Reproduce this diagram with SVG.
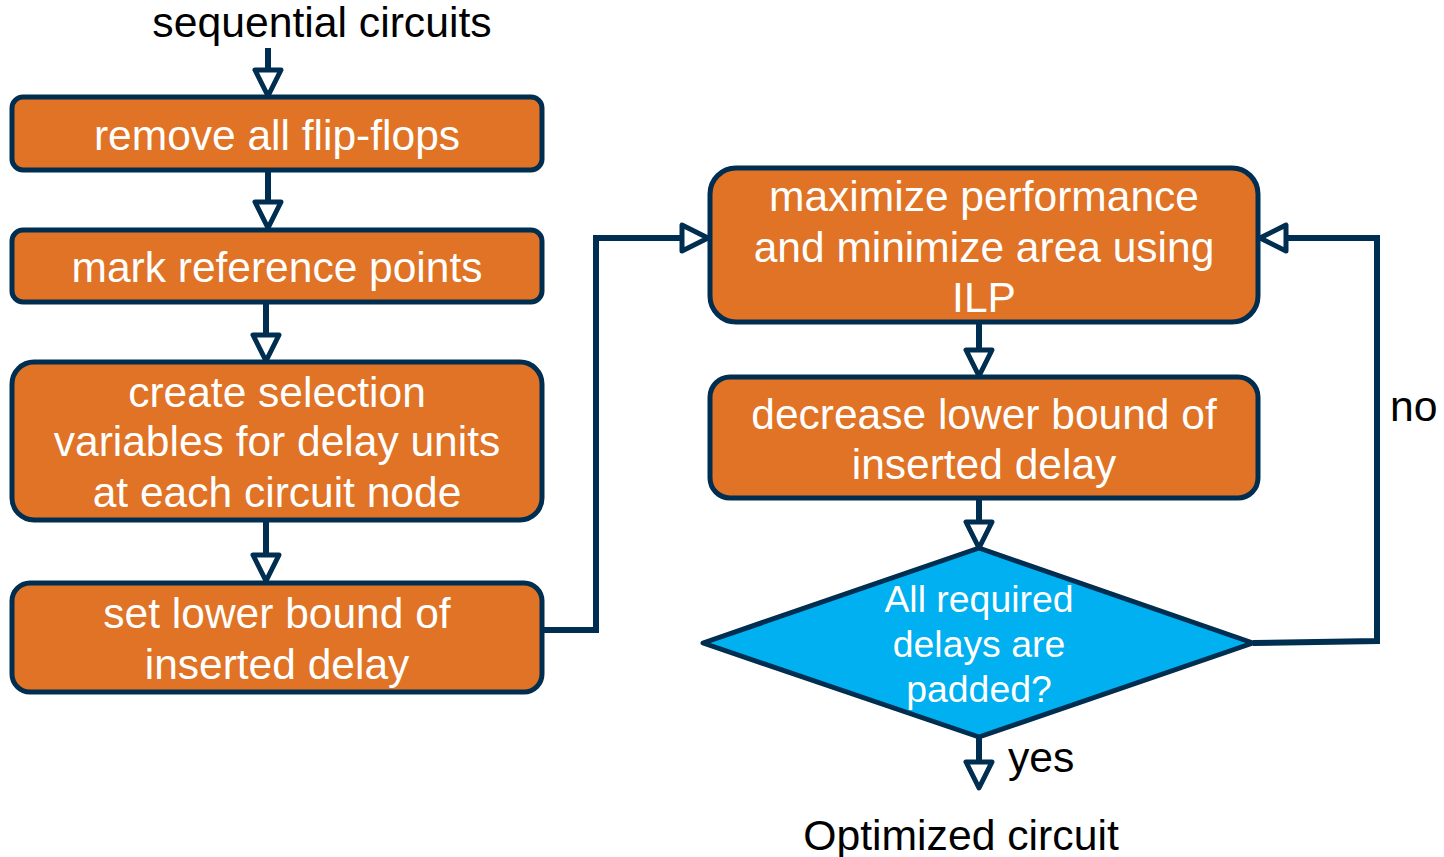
<svg xmlns="http://www.w3.org/2000/svg" width="1444" height="857" viewBox="0 0 1444 857">
<style>
.box{fill:#E07325;stroke:#002E50;stroke-width:5}
.dia{fill:#00B0F0;stroke:#002E50;stroke-width:5;stroke-linejoin:round}
.wt{fill:#fff;font-family:"Liberation Sans",Arial,sans-serif;font-size:42.5px;text-anchor:middle}
.dt{fill:#fff;font-family:"Liberation Sans",Arial,sans-serif;font-size:37.4px;text-anchor:middle}
.bt{fill:#000;font-family:"Liberation Sans",Arial,sans-serif;font-size:42.7px}
.ln{fill:none;stroke:#002E50;stroke-width:6}
.hd{fill:#fff;stroke:#002E50;stroke-width:5;stroke-linejoin:round}
</style>
<rect width="1444" height="857" fill="#fff"/>
<g id="connectors">
  <line class="ln" x1="268" y1="48" x2="268" y2="70"/>
  <polygon class="hd" points="255,70 281,70 268,96"/>
  <line class="ln" x1="268" y1="170" x2="268" y2="202"/>
  <polygon class="hd" points="255,202 281,202 268,228"/>
  <line class="ln" x1="266" y1="302" x2="266" y2="335"/>
  <polygon class="hd" points="253,335 279,335 266,361"/>
  <line class="ln" x1="266" y1="520" x2="266" y2="555"/>
  <polygon class="hd" points="253,555 279,555 266,581"/>
  <polyline class="ln" points="542,630 596,630 596,238 682,238"/>
  <polygon class="hd" points="682,225 682,251 708,238"/>
  <line class="ln" x1="979" y1="322" x2="979" y2="350"/>
  <polygon class="hd" points="966,350 992,350 979,376"/>
  <line class="ln" x1="979" y1="498" x2="979" y2="522"/>
  <polygon class="hd" points="966,522 992,522 979,548"/>
  <line class="ln" x1="979" y1="737" x2="979" y2="762"/>
  <polygon class="hd" points="966,762 992,762 979,788"/>
  <polyline class="ln" points="1253,643 1377,641 1377,238 1286,238"/>
  <polygon class="hd" points="1286,225 1286,251 1260,238"/>
  <text class="bt" x="1390" y="421">no</text>
  <text class="bt" x="1008" y="772">yes</text>
</g>
<g id="start"><text class="bt" x="322" y="37" text-anchor="middle">sequential circuits</text></g>
<g id="n1"><rect class="box" x="12" y="97" width="530" height="73" rx="11"/><text class="wt" x="277" y="150">remove all flip-flops</text></g>
<g id="n2"><rect class="box" x="12" y="230" width="530" height="72" rx="11"/><text class="wt" x="277" y="282">mark reference points</text></g>
<g id="n3"><rect class="box" x="12" y="362" width="530" height="158" rx="22"/><text class="wt" x="277" y="407">create selection</text><text class="wt" x="277" y="456">variables for delay units</text><text class="wt" x="277" y="507">at each circuit node</text></g>
<g id="n4"><rect class="box" x="12" y="583" width="530" height="109" rx="18"/><text class="wt" x="277" y="628">set lower bound of</text><text class="wt" x="277" y="679">inserted delay</text></g>
<g id="n5"><rect class="box" x="710" y="168" width="548" height="154" rx="26"/><text class="wt" x="984" y="211">maximize performance</text><text class="wt" x="984" y="262">and minimize area using</text><text class="wt" x="984" y="312">ILP</text></g>
<g id="n6"><rect class="box" x="710" y="377" width="548" height="121" rx="20"/><text class="wt" x="984" y="429">decrease lower bound of</text><text class="wt" x="984" y="479">inserted delay</text></g>
<g id="d1"><polygon class="dia" points="979,548 1253,643 979,737 703,643"/><text class="dt" x="979" y="612">All required</text><text class="dt" x="979" y="657">delays are</text><text class="dt" x="979" y="702">padded?</text></g>
<g id="end"><text class="bt" x="961" y="850" text-anchor="middle">Optimized circuit</text></g>
</svg>
